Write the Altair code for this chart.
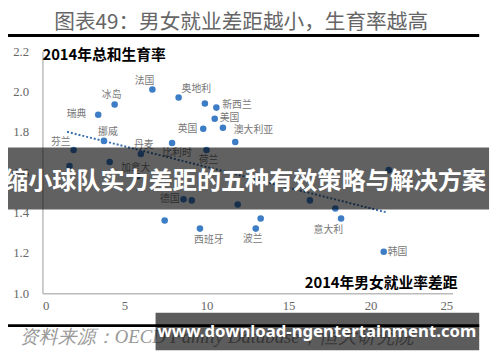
import altair as alt
import pandas as pd

# ---- data ----
names = ["法国", "奥地利", "", "新西兰", "冰岛", "瑞典", "美国", "英国", "澳大利亚", "",
         "比利时", "荷兰", "挪威", "芬兰", "丹麦", "", "", "加拿大", "德国", "",
         "", "", "", "", "", "西班牙", "", "波兰", "意大利", "韩国"]
gap = [6.7, 8.3, 9.9, 10.6, 4.4, 3.4, 10.5, 9.8, 11.0, 11.75,
       7.9, 10.0, 3.75, 1.9, 6.0, 1.65, 4.1, 5.8, 8.6, 9.1,
       11.9, 16.3, 17.85, 21.1, 7.45, 9.6, 13.3, 13.0, 18.2, 20.8]
tfr = [2.01, 1.97, 1.94, 1.92, 1.935, 1.885, 1.865, 1.815, 1.82, 1.75,
       1.745, 1.71, 1.755, 1.71, 1.69, 1.63, 1.65, 1.58, 1.465, 1.46,
       1.44, 1.46, 1.42, 1.61, 1.36, 1.32, 1.37, 1.32, 1.37, 1.205]
# label offsets (px) relative to each dot
label_dx = [-8, 18, 0, 21, -3, -22, 15, -16, 31, 0,
            5, 2, 4, -13, 3, 0, 0, -2, -14, 0,
            0, 0, 0, 0, 0, 9, 0, -3, -13, 14]
label_dy = [-9, -9, 0, -3, -10, -1, -1, 0, 2, 0,
            10, 10, -9, -8, -9, 0, 0, -8, 0, 0,
            0, 0, 0, 0, 0, 12, 0, 11, 12, 0]
trend_gap = [1.5, 21.0]
trend_tfr = [1.80, 1.40]
x_ticks = [0, 5, 10, 15, 20, 25]
y_ticks = [1.0, 1.2, 1.4, 1.6, 1.8, 2.0, 2.2]

header = "图表49：男女就业差距越小，生育率越高"
y_title = "2014年总和生育率"
x_title = "2014年男女就业率差距"
source = "资料来源：OECD Family Database，恒大研究院"
banner = "缩小球队实力差距的五种有效策略与解决方案"
watermark = "www.download-ngentertainment.com"

W, H = 417, 246
CJK = "Noto Sans CJK SC"

df = pd.DataFrame({"name": names, "gap": gap, "tfr": tfr})
trend = pd.DataFrame({"gap": trend_gap, "tfr": trend_tfr})
one = pd.DataFrame({"k": [0]})

xs = alt.Scale(domain=[0, 25], nice=False, zero=False)
ys = alt.Scale(domain=[1.0, 2.2], nice=False, zero=False)

x_axis = alt.Axis(values=x_ticks, title=None, grid=False, ticks=False, labelPadding=7,
                  labelFont="Liberation Serif", labelFontSize=13, labelColor="#666",
                  domainColor="#bbb", domainWidth=1.5, format="d")
y_axis = alt.Axis(values=y_ticks, title=None, grid=False, ticks=False, labelPadding=14,
                  labelFont="Liberation Serif", labelFontSize=13, labelColor="#666",
                  domainColor="#bbb", domainWidth=1.5, format=".1f")

base = alt.Chart(df)

points = base.mark_circle(size=44, color="#3d7dc6", opacity=1).encode(
    x=alt.X("gap:Q", scale=xs, axis=x_axis),
    y=alt.Y("tfr:Q", scale=ys, axis=y_axis),
)

trend_line = alt.Chart(trend).mark_line(strokeDash=[2, 2], strokeWidth=2, color="#3a6fae").encode(
    x=alt.X("gap:Q", scale=xs), y=alt.Y("tfr:Q", scale=ys)
)

labels = []
for n, dx, dy in zip(names, label_dx, label_dy):
    if not n:
        continue
    labels.append(
        base.transform_filter(alt.datum.name == n).mark_text(
            dx=dx, dy=dy, font=CJK, fontSize=10, color="#777", align="center", baseline="middle"
        ).encode(x=alt.X("gap:Q", scale=xs), y=alt.Y("tfr:Q", scale=ys), text="name:N")
    )


def txt(s, x, y, **kw):
    return alt.Chart(one).mark_text(**kw).encode(
        x=alt.value(x), y=alt.value(y), text=alt.value(s))


def rule(x1, x2, y, **kw):
    return alt.Chart(one).mark_rule(**kw).encode(
        x=alt.value(x1), x2=alt.value(x2), y=alt.value(y))


def box(x1, x2, y1, y2, **kw):
    return alt.Chart(one).mark_rect(**kw).encode(
        x=alt.value(x1), x2=alt.value(x2), y=alt.value(y1), y2=alt.value(y2))


deco = [
    txt(header, 202, -29, font=CJK, fontSize=21, color="#666", align="center", baseline="middle"),
    rule(-39, 444, -16, strokeWidth=3, color="black"),
    txt(y_title, 0, 4, font=CJK, fontSize=15, fontWeight="bold", color="black",
        align="left", baseline="middle"),
    txt(x_title, 422, 236, font=CJK, fontSize=15, fontWeight="bold", color="black",
        align="right", baseline="middle"),
    rule(-39, 444, 279, strokeWidth=3, color="black"),
    txt(source, -23, 291, font="Liberation Serif", fontSize=19, fontStyle="italic",
        color="#999", align="left", baseline="middle"),
    box(-43, 454, 98, 161, color="black", opacity=0.62),
    txt(banner, 206, 133, font=CJK, fontSize=24.5, fontWeight="bold", color="white",
        align="center", baseline="middle"),
    box(115, 444, 266, 304, color="black", opacity=0.64),
    txt(watermark, 279, 286, font="Noto Sans", fontSize=17, fontWeight="bold", color="white",
        align="center", baseline="middle"),
]

chart = alt.layer(trend_line, points, *labels, *deco).properties(
    width=W, height=H,
    autosize=alt.AutoSizeParams(type="none"),
    padding={"left": 35, "top": 41, "right": 40, "bottom": 59},
    background="white",
).configure_view(stroke=None)

chart.save("out.html", embed_options={"renderer": "svg", "actions": False})
